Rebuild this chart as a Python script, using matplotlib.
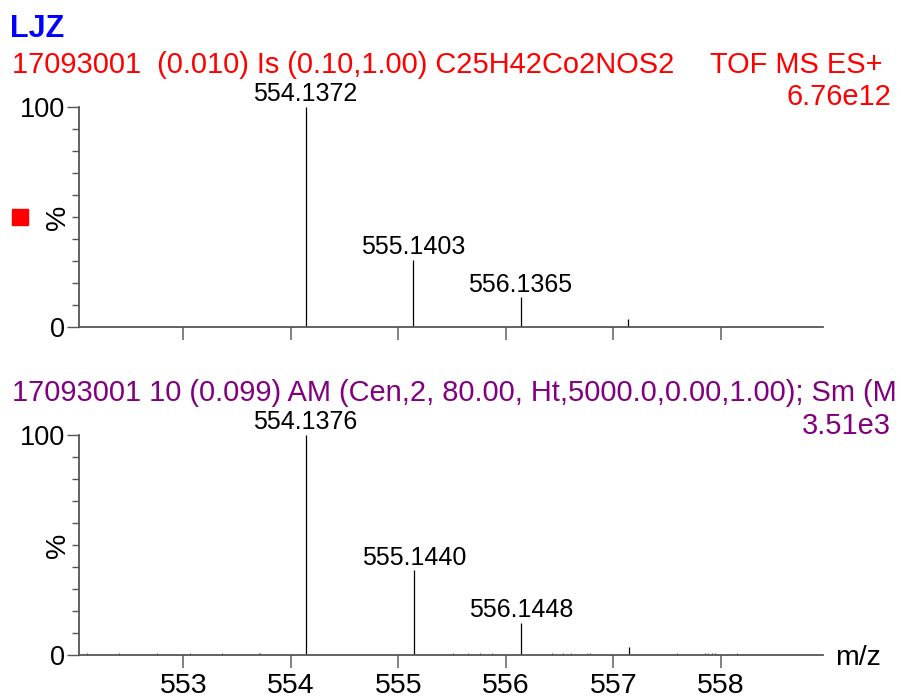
import matplotlib
matplotlib.use("Agg")
import matplotlib.pyplot as plt
from matplotlib.ticker import MultipleLocator

plt.rcParams['font.family'] = ['Liberation Sans', 'DejaVu Sans']

# Theoretical isotope pattern (top) and measured spectrum (bottom)
theo_mz = [554.1372, 555.1403, 556.1365, 557.14]
theo_int = [100.0, 30.5, 13.6, 3.5]
theo_labels = ["554.1372", "555.1403", "556.1365", None]

meas_mz = [554.1376, 555.1440, 556.1448, 557.15]
meas_int = [100.0, 38.6, 14.7, 3.6]
meas_labels = ["554.1376", "555.1440", "556.1448", None]

# low-level noise centroids in the measured scan
noise_mz = [552.106, 552.208, 552.406, 552.539, 552.756, 552.849, 553.066,
            553.159, 553.361, 553.469, 553.562, 553.701, 553.717,
            555.507, 555.652, 555.761, 555.875, 556.433, 556.535, 556.604,
            556.753, 556.783, 557.388, 557.589, 557.852, 557.883, 557.914,
            557.945, 558.147, 558.394, 558.484, 558.577, 558.704]
noise_int = [0.8, 0.6, 0.7, 0.6, 0.7, 0.5, 0.8, 0.6, 0.7, 0.6, 0.5, 0.7, 0.9,
             0.8, 0.9, 0.8, 1.0, 0.8, 0.7, 0.8, 0.7, 0.9, 0.6, 0.7, 0.8, 0.9,
             0.9, 0.8, 0.9, 0.6, 0.5, 0.6, 0.5]

xticks = [553, 554, 555, 556, 557, 558]
xlim = (552.03, 558.95)

W, H = 901, 698
fig = plt.figure(figsize=(W / 100, H / 100), dpi=100)

def fx(px):
    return px / W

def fy(py):
    return 1 - py / H

axis_col = "#555555"
tick_col = "#777777"

def setup_axes(rect, show_xlabels):
    ax = fig.add_axes(rect)
    ax.set_xlim(*xlim)
    ax.set_ylim(0, 100)
    for s in ("top", "right"):
        ax.spines[s].set_visible(False)
    for s in ("left", "bottom"):
        ax.spines[s].set_color(axis_col)
        ax.spines[s].set_linewidth(1.3)
    ax.set_yticks([0, 100])
    ax.set_yticklabels(["0", "100"], fontsize=19.5)
    ax.yaxis.set_minor_locator(MultipleLocator(10))
    ax.tick_params(axis="y", which="major", length=9, width=1.0, color=axis_col, pad=1)
    ax.tick_params(axis="y", which="minor", length=5, width=1.0, color=axis_col)
    ax.set_xticks(xticks)
    ax.tick_params(axis="x", which="major", length=9, width=1.3, color=tick_col,
                   pad=4, labelsize=20.5, labelbottom=show_xlabels)
    ax.text(-0.028, 0.5, "%", rotation=90, transform=ax.transAxes,
            ha="center", va="center", fontsize=20.5)
    ax.patch.set_alpha(0)
    return ax

def draw_peaks(ax, mz, inten, labels):
    ax.vlines(mz, 0, inten, colors="black", linewidth=0.9)
    for m, v, lab in zip(mz, inten, labels):
        if lab:
            ax.annotate(lab, (m, v), xytext=(0, 4), textcoords="offset points",
                        ha="center", va="baseline", fontsize=18)

left, right = fx(79), fx(823)
ax1 = setup_axes([left, fy(327), right - left, fy(107) - fy(327)], False)
draw_peaks(ax1, theo_mz, theo_int, theo_labels)

ax2 = setup_axes([left, fy(655), right - left, fy(435) - fy(655)], True)
ax2.vlines(noise_mz, 0, noise_int, colors="#444444", linewidth=0.7)
draw_peaks(ax2, meas_mz, meas_int, meas_labels)

# headers
red = "#ff0000"
purple = "#800080"
fs = 20.9
fig.text(fx(10), fy(37), "LJZ", color="#0000ff", fontsize=22, fontweight="bold", va="baseline")
fig.text(fx(12), fy(73), "17093001  (0.010) Is (0.10,1.00) C25H42Co2NOS2",
         color=red, fontsize=fs, va="baseline")
fig.text(fx(883), fy(73), "TOF MS ES+", color=red, fontsize=fs, va="baseline", ha="right")
fig.text(fx(891), fy(105), "6.76e12", color=red, fontsize=fs, va="baseline", ha="right")
fig.text(fx(12), fy(401), "17093001 10 (0.099) AM (Cen,2, 80.00, Ht,5000.0,0.00,1.00); Sm (M",
         color=purple, fontsize=fs, va="baseline")
fig.text(fx(891), fy(434), "3.51e3", color=purple, fontsize=fs, va="baseline", ha="right")

# red marker beside the top trace
fig.patches.append(plt.Rectangle((fx(12), fy(225)), fx(16), fy(209) - fy(225),
                                 transform=fig.transFigure, color=red, figure=fig))

fig.text(fx(835), fy(665), "m/z", fontsize=20.5, va="baseline")

fig.savefig("out.png", dpi=100)
